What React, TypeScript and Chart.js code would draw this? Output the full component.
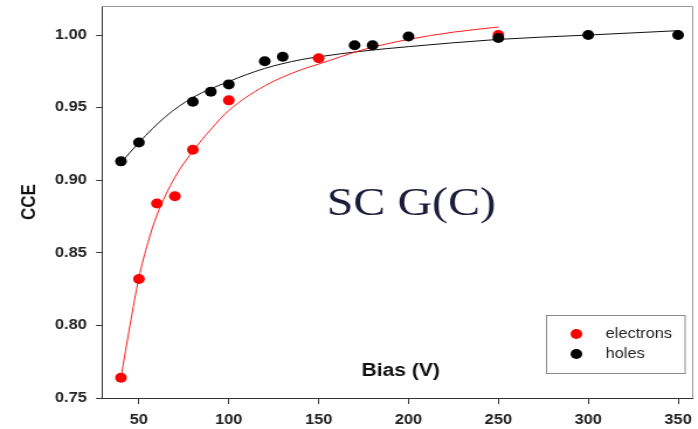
import React, { useEffect, useRef } from "react";
import { Chart, registerables } from "chart.js";

Chart.register(...registerables);

// ---- data ----
const electronBias = [40, 50, 60, 70, 80, 100, 150, 250];
const electronCCE = [0.764, 0.832, 0.884, 0.889, 0.921, 0.955, 0.984, 1.0];

const holeBias = [40, 50, 80, 90, 100, 120, 130, 170, 180, 200, 250, 300, 350];
const holeCCE = [0.913, 0.926, 0.954, 0.961, 0.966, 0.982, 0.985, 0.993, 0.993, 0.999, 0.998, 1.0, 1.0];

const electronFitBias = [40, 45, 50, 55, 60, 70, 80, 90, 100, 120, 140, 150, 175, 200, 225, 250];
const electronFitCCE = [0.764, 0.8, 0.833, 0.857, 0.876, 0.902, 0.92, 0.935, 0.948, 0.965, 0.976, 0.98, 0.99, 0.997, 1.002, 1.0055];

const holeFitBias = [40, 50, 65, 80, 100, 120, 140, 150, 175, 200, 250, 300, 350];
const holeFitCCE = [0.912, 0.926, 0.944, 0.957, 0.968, 0.977, 0.983, 0.985, 0.989, 0.992, 0.997, 1.0, 1.003];

const xTicks = [50, 100, 150, 200, 250, 300, 350];
const yTicks = [0.75, 0.8, 0.85, 0.9, 0.95, 1.0];

const xLabel = "Bias (V)";
const yLabel = "CCE";
const annotation = "SC G(C)";

// ---- geometry (the reference picture is stretched horizontally) ----
const STRETCH = 1.17;
const OUT_W = 698;
const OUT_H = 429;
const W = Math.round(OUT_W / STRETCH);
const H = OUT_H;

const SANS = "'Liberation Sans', Arial, sans-serif";
const SERIF = "'Liberation Serif', 'Times New Roman', serif";

const pts = (xs: number[], ys: number[]) => xs.map((x, i) => ({ x, y: ys[i] }));

const zeroPad = (s: any) => {
  s.paddingTop = 0;
  s.paddingBottom = 0;
  s.paddingLeft = 0;
  s.paddingRight = 0;
};

const overlayPlugin = {
  id: "overlay",
  afterDatasetsDraw(chart: any) {
    const { ctx, chartArea: a } = chart;
    ctx.save();
    // frame (top & right)
    ctx.strokeStyle = "#9a9a9a";
    ctx.lineWidth = 1;
    ctx.beginPath();
    ctx.moveTo(a.left, a.top + 0.5);
    ctx.lineTo(a.right + 0.5, a.top + 0.5);
    ctx.lineTo(a.right + 0.5, a.bottom);
    ctx.stroke();

    // annotation
    ctx.fillStyle = "#1c1c3c";
    ctx.font = `41px ${SERIF}`;
    ctx.textAlign = "left";
    ctx.textBaseline = "alphabetic";
    ctx.fillText(annotation, 279.5, 215);

    // x axis label inside plot
    ctx.fillStyle = "#111";
    ctx.font = `bold 18px ${SANS}`;
    ctx.textAlign = "center";
    ctx.textBaseline = "middle";
    ctx.fillText(xLabel, 342.7, 371);
    ctx.restore();
  },
  afterDraw(chart: any) {
    const { ctx } = chart;
    const items = chart.data.datasets.filter((d: any) => !d.isFit);
    ctx.save();
    const bx = 467.5, by = 315.5, bw = 118.5, bh = 58;
    ctx.fillStyle = "#ffffff";
    ctx.fillRect(bx, by, bw, bh);
    ctx.strokeStyle = "#8a8a8a";
    ctx.lineWidth = 1;
    ctx.strokeRect(bx, by, bw, bh);
    items.forEach((d: any, i: number) => {
      const cy = 334 + i * 20;
      ctx.fillStyle = d.backgroundColor;
      ctx.beginPath();
      ctx.arc(493, cy, 5, 0, Math.PI * 2);
      ctx.fill();
      ctx.fillStyle = "#222";
      ctx.font = `14px ${SANS}`;
      ctx.textAlign = "left";
      ctx.textBaseline = "middle";
      ctx.fillText(d.label, 518, cy);
    });
    ctx.restore();
  },
};

export default function App() {
  const ref = useRef<HTMLCanvasElement | null>(null);

  useEffect(() => {
    if (!ref.current) return;
    const chart = new Chart(ref.current, {
      type: "scatter",
      data: {
        datasets: [
          {
            label: "electrons",
            data: pts(electronBias, electronCCE),
            backgroundColor: "#ff0000",
            borderColor: "#ff0000",
            pointRadius: 5,
            pointBorderWidth: 0,
            showLine: false,
            order: 1,
          },
          {
            label: "holes",
            data: pts(holeBias, holeCCE),
            backgroundColor: "#000000",
            borderColor: "#000000",
            pointRadius: 5,
            pointBorderWidth: 0,
            showLine: false,
            order: 0,
          },
          {
            label: "electrons fit",
            isFit: true,
            data: pts(electronFitBias, electronFitCCE),
            borderColor: "#ff1a1a",
            backgroundColor: "#ff1a1a",
            borderWidth: 1,
            pointRadius: 0,
            showLine: true,
            cubicInterpolationMode: "monotone",
            order: 2,
          } as any,
          {
            label: "holes fit",
            isFit: true,
            data: pts(holeFitBias, holeFitCCE),
            borderColor: "#111111",
            backgroundColor: "#111111",
            borderWidth: 1,
            pointRadius: 0,
            showLine: true,
            cubicInterpolationMode: "monotone",
            order: 3,
          } as any,
        ],
      },
      options: {
        responsive: false,
        animation: false,
        devicePixelRatio: 1,
        layout: { padding: { left: 0, top: 6, right: W - 592.3, bottom: 0 } },
        plugins: {
          legend: { display: false },
          tooltip: { enabled: false },
        },
        scales: {
          x: {
            type: "linear",
            min: 29.4,
            max: 357.8,
            afterBuildTicks: (s: any) => {
              s.ticks = xTicks.map((v) => ({ value: v }));
            },
            afterFit: (s: any) => {
              s.height = 31;
              zeroPad(s);
            },
            grid: { drawOnChartArea: false, drawTicks: true, tickLength: 6, color: "#333" },
            border: { display: true, color: "#333", width: 1 },
            ticks: {
              autoSkip: false,
              maxRotation: 0,
              padding: 8,
              color: "#222",
              font: { family: SANS, size: 14, weight: "bold" },
              callback: (v: any) => String(v),
            },
          },
          y: {
            type: "linear",
            min: 0.75,
            max: 1.02,
            afterBuildTicks: (s: any) => {
              s.ticks = yTicks.map((v) => ({ value: v }));
            },
            afterFit: (s: any) => {
              s.width = 87.2;
              zeroPad(s);
            },
            grid: { drawOnChartArea: false, drawTicks: true, tickLength: 5, color: "#333" },
            border: { display: true, color: "#333", width: 1 },
            ticks: {
              padding: 8,
              color: "#222",
              font: { family: SANS, size: 14, weight: "bold" },
              callback: (v: any) => Number(v).toFixed(2),
            },
            title: {
              display: true,
              text: yLabel,
              color: "#111",
              font: { family: SANS, size: 17, weight: "bold" },
              padding: { top: 15, bottom: 0 },
            },
          },
        },
      },
      plugins: [overlayPlugin],
    } as any);
    return () => chart.destroy();
  }, []);

  return (
    <canvas
      ref={ref}
      width={W}
      height={H}
      style={{ position: "fixed", left: 0, top: 0, width: `${OUT_W}px`, height: `${OUT_H}px`, background: "#fff" }}
    />
  );
}
